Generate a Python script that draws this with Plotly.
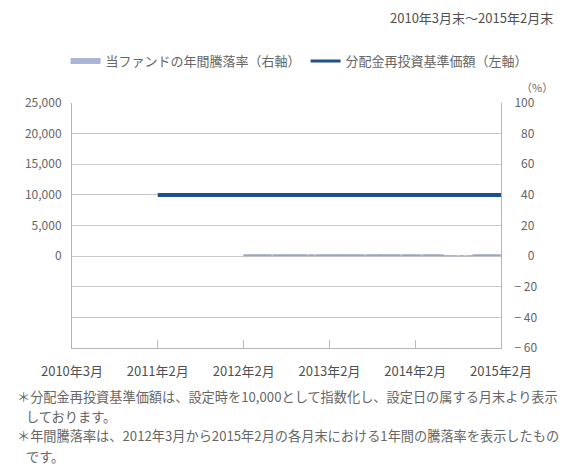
import plotly.graph_objects as go

# Month labels on the x axis (month-end positions)
tick_dates = ["2010-03-01", "2011-03-01", "2012-03-01", "2013-03-01", "2014-03-01", "2015-03-01"]
tick_labels = ["2010年3月", "2011年2月", "2012年2月", "2013年2月", "2014年2月", "2015年2月"]

# Dividend-reinvested NAV (left axis), month-end from Feb 2011 to Feb 2015
nav_months = [
    "2011-02", "2011-03", "2011-04", "2011-05", "2011-06", "2011-07", "2011-08",
    "2011-09", "2011-10", "2011-11", "2011-12", "2012-01", "2012-02", "2012-03",
    "2012-04", "2012-05", "2012-06", "2012-07", "2012-08", "2012-09", "2012-10",
    "2012-11", "2012-12", "2013-01", "2013-02", "2013-03", "2013-04", "2013-05",
    "2013-06", "2013-07", "2013-08", "2013-09", "2013-10", "2013-11", "2013-12",
    "2014-01", "2014-02", "2014-03", "2014-04", "2014-05", "2014-06", "2014-07",
    "2014-08", "2014-09", "2014-10", "2014-11", "2014-12", "2015-01", "2015-02",
]
nav_values = [
    10000, 10000, 10000, 10000, 10000, 10000, 10000,
    10000, 10000, 10000, 10000, 10000, 10000, 10000,
    10000, 10000, 10000, 10000, 10000, 10000, 10000,
    10000, 10000, 10000, 10000, 10000, 10000, 10000,
    10000, 10000, 10000, 10000, 10000, 10000, 10000,
    10000, 10000, 10000, 10000, 10000, 10000, 10000,
    10000, 10000, 10000, 10000, 10000, 10000, 10000,
]

# One-year return of the fund (right axis, %), month-end from Mar 2012 to Feb 2015
ret_months = nav_months[13:]
ret_values = [
    0.8, 0.8, 0.8, 0.8, 0.8, 0.8, 0.8, 0.8, 0.8, 0.8, 0.8, 0.8,
    0.8, 0.8, 0.8, 0.8, 0.8, 0.8, 0.8, 0.8, 0.8, 0.8, 0.8, 0.8,
    0.8, 0.8, 0.8, 0.8, 0.0, 0.4, 0.1, 0.0, 0.5, 0.5, 0.5, 0.5,
]

left_ticks = [0, 5000, 10000, 15000, 20000, 25000]
left_labels = ["0", "5,000", "10,000", "15,000", "20,000", "25,000"]
right_ticks = [-60, -40, -20, 0, 20, 40, 60, 80, 100]
right_labels = ["− 60", "− 40", "− 20", "\u2007\u20070", "\u200720", "\u200740", "\u200760", "\u200780", "100"]

name_ret = "当ファンドの年間騰落率（右軸）"
name_nav = "分配金再投資基準価額（左軸）"

FONT = "Noto Sans CJK JP"
TXT = "#666666"
GRID = "#c9c9c9"
BAR_C = "#a9b6d6"
NAV_C = "#1e4f8e"

fig = go.Figure()

fig.add_trace(go.Bar(
    x=ret_months, y=ret_values, yaxis="y2",
    xperiod="M1", xperiodalignment="middle",
    marker=dict(color="#8e98b8", line=dict(width=0.6, color="#8e98b8")),
    showlegend=False, name=name_ret,
))
fig.add_trace(go.Scatter(
    x=nav_months, y=nav_values, yaxis="y",
    xperiod="M1", xperiodalignment="end",
    mode="lines", line=dict(color=NAV_C, width=4),
    showlegend=False, name=name_nav,
))

# legend entries
fig.add_trace(go.Scatter(x=[None], y=[None], mode="lines", name=name_ret,
                         line=dict(color=BAR_C, width=6)))
fig.add_trace(go.Scatter(x=[None], y=[None], mode="lines", name=name_nav,
                         line=dict(color=NAV_C, width=3)))

fig.update_layout(
    width=570, height=466,
    margin=dict(l=72, r=69, t=103, b=118),
    paper_bgcolor="white", plot_bgcolor="white",
    font=dict(family=FONT, size=12, color=TXT),
    bargap=0.0,
    legend=dict(orientation="h", x=-0.015, y=1.171, xanchor="left", yanchor="middle",
                font=dict(size=13, color=TXT), itemwidth=30, tracegroupgap=0,
                bgcolor="rgba(0,0,0,0)"),
    xaxis=dict(
        type="date", range=["2010-03-01", "2015-03-01"],
        tickvals=tick_dates, ticktext=tick_labels,
        ticks="inside", ticklen=8, tickcolor="#bbbbbb",
        showgrid=False, showline=True, linecolor="#b5b5b5", linewidth=1,
        mirror=False, zeroline=False,
        tickfont=dict(size=13, color="#505050"), ticklabelstandoff=11,
    ),
    yaxis=dict(
        range=[-15000, 25000], tickvals=left_ticks, ticktext=left_labels,
        showgrid=False, zeroline=False, showline=True, linecolor="#b5b5b5",
        ticks="", tickfont=dict(size=12, color=TXT), ticklabelstandoff=7,
    ),
    yaxis2=dict(
        range=[-60, 100], tickvals=right_ticks, ticktext=right_labels,
        overlaying="y", side="right",
        showgrid=True, gridcolor=GRID, gridwidth=1.3,
        zeroline=False, showline=True, linecolor="#b5b5b5",
        ticks="", tickfont=dict(size=12, color=TXT), ticklabelstandoff=10,
    ),
)

fig.add_annotation(text="2010年3月末～2015年2月末", xref="paper", yref="paper",
                   x=1.126, y=1.351, xanchor="right", yanchor="middle",
                   showarrow=False, font=dict(size=13, color="#505050"))
fig.add_annotation(text="（%）", xref="paper", yref="paper",
                   x=1.126, y=1.065, xanchor="right", yanchor="middle",
                   showarrow=False, font=dict(size=11, color=TXT))

# footnotes: each note wraps onto a second, slightly indented line
notes = [
    ("＊分配金再投資基準価額は、設定時を10,000として指数化し、設定日の属する月末より表示", -0.133, -0.196),
    ("しております。", -0.112, -0.278),
    ("＊年間騰落率は、2012年3月から2015年2月の各月末における1年間の騰落率を表示したもの", -0.133, -0.359),
    ("です。", -0.112, -0.441),
]
for txt, nx, ny in notes:
    fig.add_annotation(text=txt, xref="paper", yref="paper", x=nx, y=ny,
                       xanchor="left", yanchor="middle", showarrow=False,
                       font=dict(size=13.2, color=TXT))

fig.write_html("out.html")
